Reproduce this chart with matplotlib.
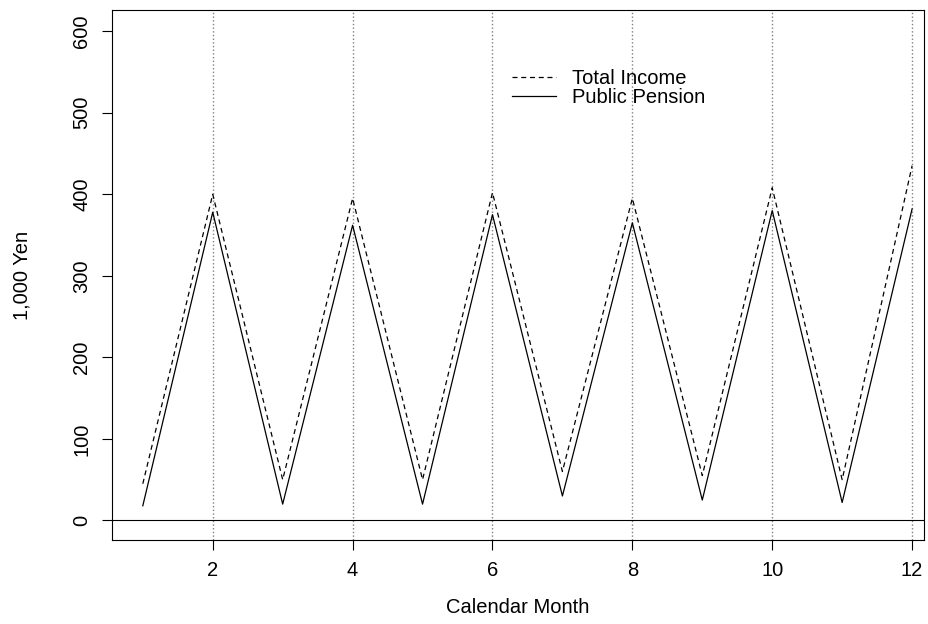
import matplotlib
matplotlib.use("Agg")
import matplotlib.pyplot as plt

months = [1, 2, 3, 4, 5, 6, 7, 8, 9, 10, 11, 12]
total_income = [45, 400, 50, 395, 50, 402, 60, 395, 55, 408, 50, 435]
public_pension = [18, 378, 20, 362, 20, 375, 30, 365, 25, 380, 22, 382]
x_ticks = [2, 4, 6, 8, 10, 12]
y_ticks = [0, 100, 200, 300, 400, 500, 600]

plt.rcParams['font.family'] = ['Liberation Sans', 'DejaVu Sans']

fig = plt.figure(figsize=(9.29, 6.24), dpi=100)
ax = fig.add_axes([0.1206, 0.1346, 0.874, 0.8494])

for m in x_ticks:
    ax.axvline(m, color='gray', linestyle=':', linewidth=1)
ax.axhline(0, color='black', linewidth=0.8)

ax.plot(months, total_income, 'k--', linewidth=0.9, dashes=(4, 3), label='Total Income')
ax.plot(months, public_pension, 'k-', linewidth=0.9, label='Public Pension')

ax.set_xlim(0.56, 12.17)
ax.set_ylim(-24, 626)
ax.set_xticks(x_ticks)
ax.set_yticks(y_ticks)
ax.tick_params(direction='out', length=7, labelsize=14.5, pad=8)
for lbl in ax.get_yticklabels():
    lbl.set_rotation(90)
    lbl.set_va('center')
ax.set_xlabel('Calendar Month', fontsize=14.5, labelpad=13)
ax.set_ylabel('1,000 Yen', fontsize=14.5, labelpad=29)

ax.legend(loc='upper left', bbox_to_anchor=(0.54, 0.905), bbox_transform=fig.transFigure,
          frameon=False, fontsize=14.5, handlelength=2.2, labelspacing=0.0, borderpad=0)

fig.savefig('out.png', dpi=100)
